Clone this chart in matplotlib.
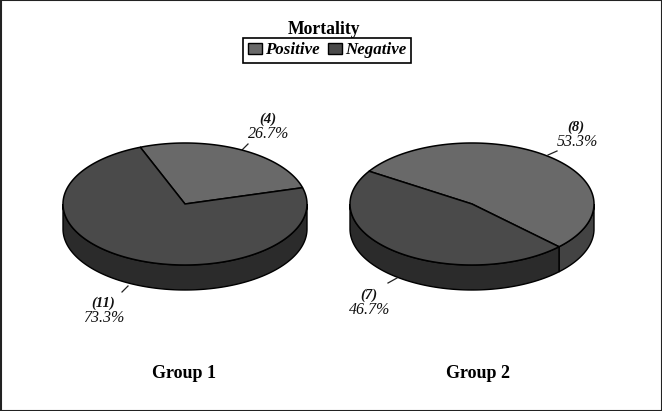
import numpy as np
import matplotlib
matplotlib.use("Agg")
import matplotlib.pyplot as plt
from matplotlib.patches import Patch, Polygon

plt.rcParams['font.family'] = ['Liberation Serif', 'DejaVu Serif']

# Data
groups = ["Group 1", "Group 2"]
categories = ["Positive", "Negative"]
group1_counts = [4, 11]
group2_counts = [8, 7]
legend_title = "Mortality"

# Colours
top_colors = ["#696969", "#4a4a4a"]
side_colors = ["#434343", "#2b2b2b"]

# Pie geometry, in picture pixels
RX = 122
RY = 61
DEPTH = 25


def arc(cx, cy, t1, t2, n=200):
    t = np.radians(np.linspace(t1, t2, n))
    return np.column_stack([cx + RX*np.cos(t), cy - RY*np.sin(t)])


def draw_pie(ax, cx, cy, counts, start):
    fracs = np.array(counts) / sum(counts)
    a = start
    # sides first, only the front half is visible
    for i, f in enumerate(fracs):
        b = a + 360*f
        for k in (-360, 0, 360):
            lo = max(a + k, 180)
            hi = min(b + k, 360)
            if hi > lo:
                upper = arc(cx, cy, lo, hi)
                lower = upper[::-1] + [0, DEPTH]
                ax.add_patch(Polygon(np.vstack([upper, lower]), closed=True,
                                     fc=side_colors[i], ec="black", lw=1.0, zorder=2))
        a = b
    a = start
    for i, f in enumerate(fracs):
        b = a + 360*f
        pts = np.vstack([[cx, cy], arc(cx, cy, a, b)])
        ax.add_patch(Polygon(pts, closed=True, fc=top_colors[i], ec="black",
                             lw=1.1, zorder=3))
        a = b


def slice_label(ax, n, total, x, y):
    ax.text(x, y, f"({n})", ha="center", va="center", fontsize=10.5,
            style="italic", fontweight="bold", color="#111111")
    ax.text(x + 1, y + 15, f"{100*n/total:.1f}%", ha="center", va="center",
            fontsize=11.5, style="italic", color="#111111")


fig = plt.figure(figsize=(6.62, 4.11), dpi=100, facecolor="white")
ax = fig.add_axes([0, 0, 1, 1])
ax.set_xlim(0, 662)
ax.set_ylim(411, 0)
ax.axis("off")

draw_pie(ax, 185, 204, group1_counts, 15.5)
draw_pie(ax, 472, 204, group2_counts, -44.5)

# Leader lines
ax.plot([242, 248], [150, 144], color="#222222", lw=0.9)
ax.plot([122, 128], [292, 286], color="#222222", lw=0.9)
ax.plot([548, 557], [155, 151], color="#222222", lw=0.9)
ax.plot([388, 397], [283, 278], color="#222222", lw=0.9)

total1 = sum(group1_counts)
total2 = sum(group2_counts)
slice_label(ax, group1_counts[0], total1, 268, 119)
slice_label(ax, group1_counts[1], total1, 103, 303)
slice_label(ax, group2_counts[0], total2, 576, 127)
slice_label(ax, group2_counts[1], total2, 369, 295)

ax.text(184, 373.5, groups[0], ha="center", va="center", fontsize=13, fontweight="bold")
ax.text(478, 373.5, groups[1], ha="center", va="center", fontsize=13, fontweight="bold")
ax.text(324, 30, legend_title, ha="center", va="center", fontsize=12.7, fontweight="bold")

handles = [Patch(fc=top_colors[0], ec="black", lw=1.0),
           Patch(fc=top_colors[1], ec="black", lw=1.0)]
leg = ax.legend(handles, categories, ncol=2, loc="center",
                bbox_to_anchor=(327, 50.5), bbox_transform=ax.transData,
                prop={"size": 12.2, "style": "italic", "weight": "bold"},
                fancybox=False, edgecolor="black", framealpha=1,
                handlelength=0.85, handleheight=0.65, handletextpad=0.15,
                columnspacing=0.5, borderpad=0.28, borderaxespad=0)
leg.get_frame().set_linewidth(1.2)

# Outer frame of the picture
ax.add_patch(plt.Rectangle((0.5, 0.5), 661, 410, fill=False, ec="#222222", lw=1.5, zorder=5))

fig.savefig("out.png", dpi=100)
